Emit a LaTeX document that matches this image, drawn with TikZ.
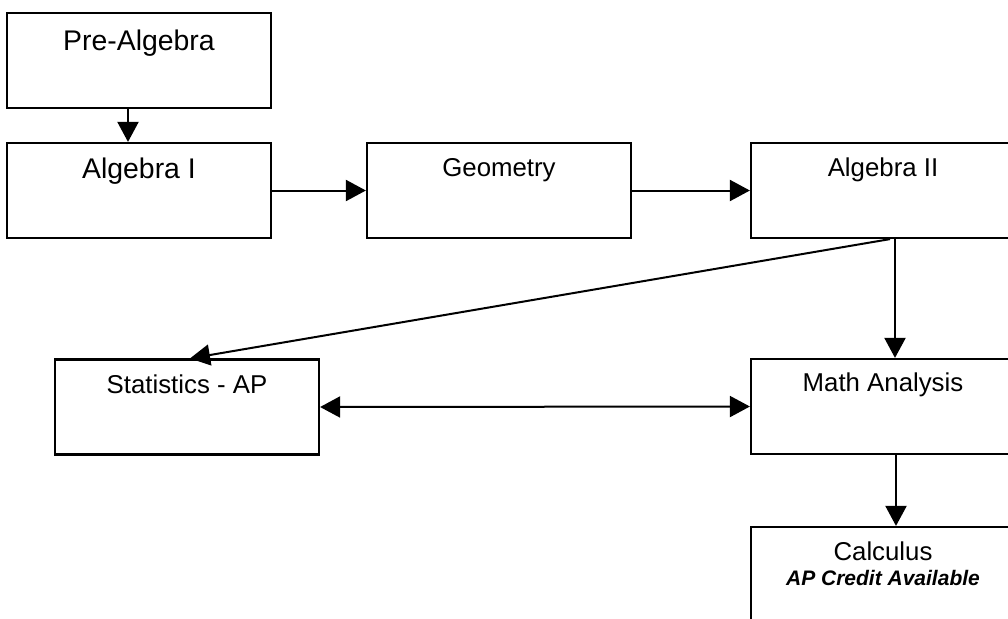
\documentclass[tikz,border=0pt]{standalone}
\usepackage{fontspec}
\setmainfont{Liberation Sans}
\usetikzlibrary{arrows.meta}

\tikzset{
  course/.style={draw, line width=1.1pt, minimum width=132pt, minimum height=47.5pt, inner sep=0pt},
  coursetitle/.style={anchor=base, inner sep=0pt, font=\fontsize{12.9}{15}\selectfont},
  bigtitle/.style={coursetitle, font=\fontsize{14.2}{17}\selectfont},
  notetitle/.style={coursetitle, font=\fontsize{10.5}{12}\selectfont\bfseries\itshape},
  arr/.style={line width=1pt, -{Triangle[length=10pt,width=10.5pt]}},
  dblarr/.style={line width=1pt, {Triangle[length=10pt,width=10.5pt]}-{Triangle[length=10pt,width=10.5pt]}},
}

\begin{document}
\begin{tikzpicture}[x=0.5pt,y=-0.5pt]
			%%%%% START %%%%%
			\useasboundingbox (0,0) rectangle (1008,618);
			\clip (0,0) rectangle (1008,618);
			
			% boxes
			\node[course] (pre) at (139,60.5) {};
			\node[course] (alg1) at (139,190.5) {};
			\node[course] (geo) at (499,190.5) {};
			\node[course] (alg2) at (883,190.5) {};
			\node[course] (stat) at (187,407) {};
			\node[course] (math) at (883,406.5) {};
			\node[course] (calc) at (883,574.5) {};
			
			% titles
			\node[bigtitle] (pretxt) at ([yshift=-19.5pt]pre.north) {Pre-Algebra};
			\node[bigtitle] (alg1txt) at ([yshift=-18.5pt]alg1.north) {Algebra I};
			\node[coursetitle] (geotxt) at ([yshift=-17.5pt]geo.north) {Geometry};
			\node[coursetitle] (alg2txt) at ([yshift=-17.5pt]alg2.north) {Algebra II};
			\node[coursetitle] (stattxt) at ([yshift=-17.5pt]stat.north) {Statistics - AP};
			\node[coursetitle] (mathtxt) at ([yshift=-17pt]math.north) {Math Analysis};
			\node[coursetitle] (calctxt) at ([yshift=-17.5pt]calc.north) {Calculus};
			\node[notetitle] (calcnote) at ([yshift=-30pt]calc.north) {AP Credit Available};
			
			% arrows
			\draw[arr] ([xshift=-5.5pt]pre.south) -- ([xshift=-5.5pt]alg1.north);
			\draw[arr] (alg1.east) -- (geo.west);
			\draw[arr] (geo.east) -- (alg2.west);
			\draw[arr] ([xshift=3.5pt]alg2.south) -- ([xshift=1.5pt]stat.north);
			\draw[arr] ([xshift=6pt]alg2.south) -- ([xshift=6pt]math.north);
			\draw[dblarr] (stat.east) -- (math.west);
			\draw[arr] ([xshift=6.5pt]math.south) -- ([xshift=6.5pt]calc.north);
			
			%%%%% END %%%%%
\end{tikzpicture}
\end{document}
